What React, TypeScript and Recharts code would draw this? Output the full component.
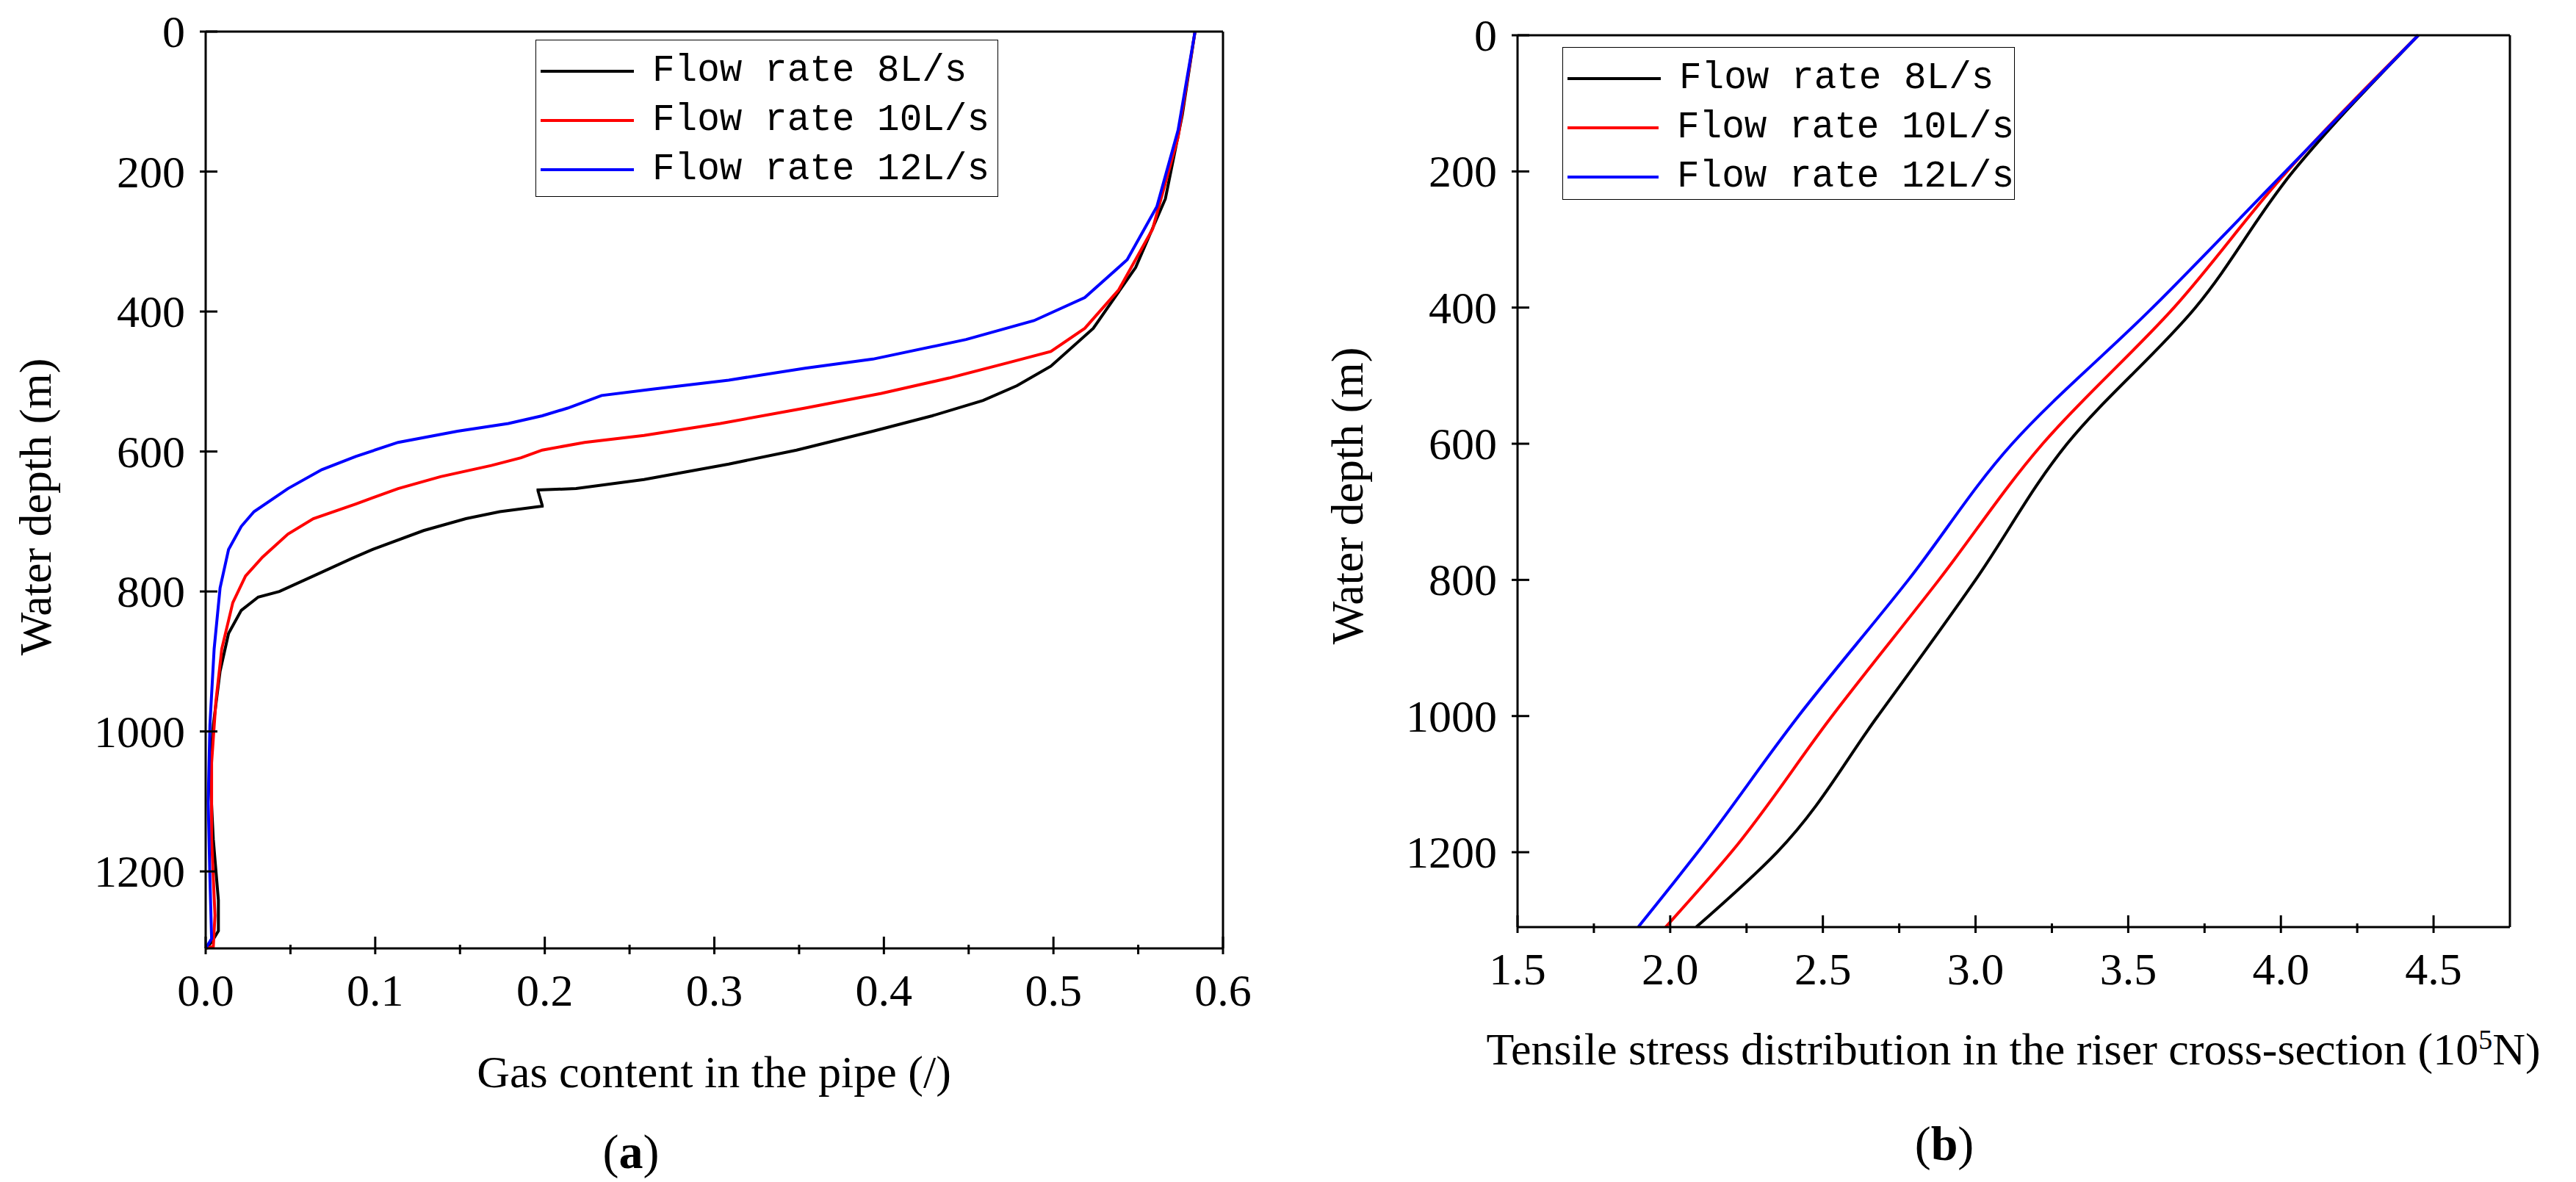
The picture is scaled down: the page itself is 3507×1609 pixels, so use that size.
import React from 'react'
import { LineChart, Line, XAxis, YAxis } from 'recharts'

// ---- panel (a): gas content vs depth ----
const gas8 = [
  [0.5835, 0], [0.576, 119], [0.566, 239], [0.5485, 337], [0.5235, 424], [0.4985, 478],
  [0.4785, 506], [0.4585, 527], [0.4285, 549], [0.3935, 571], [0.3485, 598], [0.3085, 618],
  [0.2585, 640], [0.2185, 653], [0.196, 655], [0.196, 656], [0.1985, 677], [0.1985, 678], [0.1735, 686], [0.1535, 696],
  [0.1285, 713], [0.0985, 740], [0.086, 753], [0.0635, 778], [0.0435, 800], [0.031, 808],
  [0.021, 827], [0.0135, 860], [0.0085, 914], [0.0045, 991], [0.0025, 1056], [0.0045, 1154],
  [0.0075, 1241], [0.0075, 1285], [0.0035, 1301], [0, 1310],
]
const gas10 = [
  [0.5835, 0], [0.5735, 151], [0.5585, 282], [0.5385, 369], [0.5185, 424], [0.4985, 457],
  [0.4735, 473], [0.4385, 495], [0.3985, 517], [0.3535, 538], [0.3035, 560], [0.2585, 577],
  [0.2235, 587], [0.1985, 598], [0.186, 609], [0.1685, 620], [0.1385, 636], [0.1135, 653],
  [0.0885, 675], [0.0635, 696], [0.0485, 718], [0.0335, 751], [0.0235, 778], [0.016, 816],
  [0.0095, 882], [0.006, 958], [0.0035, 1045], [0.0035, 1154], [0.0055, 1263], [0.0045, 1307],
  [0, 1310],
]
const gas12 = [
  [0.5835, 0], [0.5735, 141], [0.561, 250], [0.5435, 326], [0.5185, 380], [0.4885, 413],
  [0.4485, 440], [0.3935, 468], [0.3535, 481], [0.3085, 498], [0.2635, 511], [0.2335, 520],
  [0.2135, 538], [0.1985, 549], [0.1785, 560], [0.1485, 571], [0.1135, 587], [0.0885, 607],
  [0.0685, 626], [0.0485, 653], [0.0285, 686], [0.021, 707], [0.0135, 740], [0.0085, 795],
  [0.005, 882], [0.0025, 991], [0.0015, 1100], [0.0025, 1209], [0.0035, 1296], [0, 1310],
]

// ---- panel (b): tensile stress vs depth ----
const depthsB = [0, 200, 400, 600, 800, 1000, 1200, 1310]
const stress8 = [4.45, 4.04, 3.72, 3.3, 3.0, 2.68, 2.35, 2.085]
const stress10 = [4.45, 4.02, 3.65, 3.22, 2.88, 2.53, 2.2, 1.985]
const stress12 = [4.45, 4.015, 3.58, 3.12, 2.78, 2.42, 2.09, 1.895]

const gasTicks = [0, 0.05, 0.1, 0.15, 0.2, 0.25, 0.3, 0.35, 0.4, 0.45, 0.5, 0.55, 0.6]
const stressTicks = [1.5, 1.75, 2, 2.25, 2.5, 2.75, 3, 3.25, 3.5, 3.75, 4, 4.25, 4.5]
const depthTicks = [0, 200, 400, 600, 800, 1000, 1200]

const seriesNames = ['Flow rate 8L/s', 'Flow rate 10L/s', 'Flow rate 12L/s']
const colors = ['#000000', '#ff0000', '#0000ff']

const serif = '"Liberation Serif", "Times New Roman", serif'
const mono = '"Liberation Mono", "DejaVu Sans Mono", monospace'

const toPts = (arr: number[][]) => arr.map(([x, y]) => ({ x, y }))
const zipB = (xs: number[]) => xs.map((x, i) => ({ x, y: depthsB[i] }))

const XTick = (props: any) => {
  const { x, y, payload, labels } = props
  const lab = labels(payload.value)
  const major = lab !== null
  return (
    <g>
      <line x1={x} x2={x} y1={y} y2={y - (major ? 24 : 13)} stroke="#000" strokeWidth={3} />
      {major && (
        <text x={x} y={y + 70} textAnchor="middle" fontFamily={serif} fontSize={62} fill="#000">
          {lab}
        </text>
      )}
    </g>
  )
}

const YTick = (props: any) => {
  const { x, y, payload } = props
  return (
    <g>
      <line x1={x} x2={x + 24} y1={y} y2={y} stroke="#000" strokeWidth={3} />
      <text x={x - 20} y={y + 21} textAnchor="end" fontFamily={serif} fontSize={62} fill="#000">
        {payload.value}
      </text>
    </g>
  )
}

const Legend = ({ left, top, width, height }: any) => (
  <div
    style={{
      position: 'absolute', left, top, width, height, border: '1.5px solid #000',
      background: '#fff', boxSizing: 'border-box', paddingTop: 8,
    }}
  >
    {seriesNames.map((n, i) => (
      <div key={n} style={{ display: 'flex', alignItems: 'center', height: 67 }}>
        <div style={{ width: 127, height: 4, background: colors[i], marginLeft: 6, marginRight: 25 }} />
        <span style={{ fontFamily: mono, fontSize: 51, color: '#000', whiteSpace: 'nowrap' }}>{n}</span>
      </div>
    ))}
  </div>
)

const txt = (s: any, left: number, top: number, size: number, extra: any = {}) => (
  <div
    style={{
      position: 'absolute', left, top, transform: 'translate(-50%, -50%)', fontFamily: serif,
      fontSize: size, color: '#000', whiteSpace: 'nowrap', ...extra,
    }}
  >
    {s}
  </div>
)

const axisLine = { stroke: '#000', strokeWidth: 3 }

export default function App() {
  const gasLab = (v: number) => (Math.abs(v * 10 - Math.round(v * 10)) < 1e-6 ? v.toFixed(1) : null)
  const stressLab = (v: number) => (Math.abs(v * 2 - Math.round(v * 2)) < 1e-6 ? v.toFixed(1) : null)
  const gasData = [gas8, gas10, gas12].map(toPts)
  const stressData = [stress8, stress10, stress12].map(zipB)

  return (
    <div style={{ position: 'absolute', left: 0, top: 0, width: 3507, height: 1609, background: '#fff' }}>
      <div style={{ position: 'absolute', left: 0, top: 0 }}>
        <LineChart width={1800} height={1609} margin={{ left: 279, top: 42, right: 134, bottom: 317 }} style={{ overflow: 'visible' }}>
          <XAxis xAxisId="b" type="number" dataKey="x" domain={[0, 0.6]} ticks={gasTicks} height={1}
            axisLine={axisLine} tickLine={false} tick={<XTick labels={gasLab} />} interval={0} />
          <XAxis xAxisId="t" orientation="top" type="number" dataKey="x" domain={[0, 0.6]} height={1}
            axisLine={axisLine} tick={false} tickLine={false} />
          <YAxis yAxisId="l" type="number" dataKey="y" domain={[0, 1310]} reversed ticks={depthTicks} width={1}
            axisLine={axisLine} tickLine={false} tick={<YTick />} interval={0} />
          <YAxis yAxisId="r" orientation="right" type="number" dataKey="y" domain={[0, 1310]} reversed width={1}
            axisLine={axisLine} tick={false} tickLine={false} />
          {gasData.map((d, i) => (
            <Line key={i} xAxisId="b" yAxisId="l" data={d} dataKey="y" type="linear" stroke={colors[i]} strokeWidth={4}
              dot={false} isAnimationActive={false} />
          ))}
        </LineChart>
      </div>
      <div style={{ position: 'absolute', left: 1750, top: 0 }}>
        <LineChart width={1757} height={1609} margin={{ left: 315, top: 47, right: 89, bottom: 346 }} style={{ overflow: 'visible' }}>
          <XAxis xAxisId="b" type="number" dataKey="x" domain={[1.5, 4.75]} ticks={stressTicks} height={1}
            axisLine={axisLine} tickLine={false} tick={<XTick labels={stressLab} />} interval={0} />
          <XAxis xAxisId="t" orientation="top" type="number" dataKey="x" domain={[1.5, 4.75]} height={1}
            axisLine={axisLine} tick={false} tickLine={false} />
          <YAxis yAxisId="l" type="number" dataKey="y" domain={[0, 1310]} reversed ticks={depthTicks} width={1}
            axisLine={axisLine} tickLine={false} tick={<YTick />} interval={0} />
          <YAxis yAxisId="r" orientation="right" type="number" dataKey="y" domain={[0, 1310]} reversed width={1}
            axisLine={axisLine} tick={false} tickLine={false} />
          {stressData.map((d, i) => (
            <Line key={i} xAxisId="b" yAxisId="l" data={d} dataKey="y" type="monotoneY" stroke={colors[i]} strokeWidth={4}
              dot={false} isAnimationActive={false} />
          ))}
        </LineChart>
      </div>

      <Legend left={729} top={54} width={630} height={214} />
      <Legend left={2127} top={64} width={616} height={208} />

      {txt('Gas content in the pipe (/)', 972, 1459, 62)}
      {txt(<span>(<b>a</b>)</span>, 859, 1568, 66)}
      {txt('Water depth (m)', 48, 690, 62, { transform: 'translate(-50%, -50%) rotate(-90deg)' })}

      {txt(<span>Tensile stress distribution in the riser cross-section (10<sup style={{ fontSize: 38 }}>5</sup>N)</span>, 2741, 1428, 62)}
      {txt(<span>(<b>b</b>)</span>, 2647, 1557, 66)}
      {txt('Water depth (m)', 1834, 675, 62, { transform: 'translate(-50%, -50%) rotate(-90deg)' })}
    </div>
  )
}
